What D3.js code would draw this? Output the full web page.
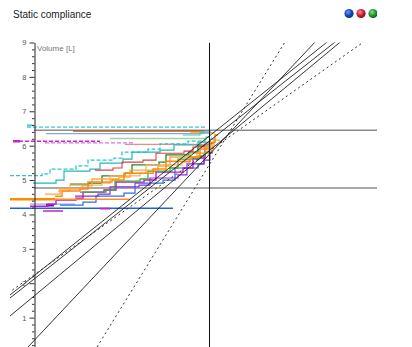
<!DOCTYPE html>
<html><head><meta charset="utf-8">
<script src="https://cdn.jsdelivr.net/npm/d3@7"></script>
<style>
html,body{margin:0;padding:0;background:#fff;overflow:hidden}
svg{display:block}
</style></head><body>
<svg id="chart" width="412" height="347"></svg>
<script>
// ---- data: pressure [cmH2O] / volume [L] ----
const volumeTicks = [1, 2, 3, 4, 5, 6, 7, 8, 9];
const refVolumes = [6.45, 4.77];          // upper / lower volume markers
const refPressure = 20.95;                // pressure marker
const refPressureSpan = [3.4, 37.7];

// compliance fits  V = intercept + slope * P
const fitSlopes = [0.3089, 0.2412, 0.2320, 0.2290];
const fitIntercepts = [-0.720, 0.806, 1.425, 1.341];
// +/- spread lines
const sdSlopes = [0.4719, 0.2054];
const sdIntercepts = [-4.432, 1.548];

// breath traces [P, V]
const expCyan = [[2.7, 6.54], [20.5, 6.54]];
const expCyanHead = [[2.7, 6.59], [3.3, 6.59]];
const expBrown = [[7.3, 6.43], [20.5, 6.43]];
const expLightBlue = [[4.6, 6.35], [19.3, 6.35], [20.3, 6.40], [21.0, 6.45]];
const expLightGreen = [[11.0, 6.21], [20.7, 6.21]];
const expMagenta = [[1.3, 6.13], [10.0, 6.13]];
const expMagentaHead = [[1.3, 6.13], [2.0, 6.13]];
const expOrchid = [[4.5, 6.08], [13.5, 6.08]];
const expSalmon = [[12.5, 6.04], [21.0, 6.04]];
const topOrange = [[19.0, 6.37], [21.5, 6.37]];
const topCyan = [[18.3, 6.31], [20.0, 6.37], [21.0, 6.42]];
const inspCyanA = [[1.0, 5.13], [4.2, 5.18], [5.0, 5.32], [7.6, 5.41], [8.8, 5.58], [11.4, 5.64], [12.2, 5.81], [14.8, 5.90], [16.0, 6.05], [18.8, 6.13], [20.5, 6.25], [21.2, 6.25]];
const inspCyanB = [[3.3, 4.91], [5.6, 5.00], [6.4, 5.26], [9.0, 5.32], [10.0, 5.49], [12.3, 5.61], [13.2, 5.81], [16.0, 5.87], [17.4, 6.02], [19.8, 6.10], [21.0, 6.19], [21.4, 6.19]];
const inspOrangeA = [[5.5, 4.53], [6.2, 4.68], [8.0, 4.74], [8.8, 4.94], [11.2, 5.00], [12.4, 5.20], [15.3, 5.32], [16.6, 5.55], [19.0, 5.67], [20.0, 5.90], [21.0, 6.10], [21.5, 6.31], [21.8, 6.31]];
const inspOrangeB = [[4.5, 4.59], [6.0, 4.74], [8.2, 4.83], [9.2, 5.03], [11.9, 5.09], [13.0, 5.29], [15.8, 5.41], [17.0, 5.67], [19.7, 5.78], [20.6, 5.99], [21.4, 6.16], [22.0, 6.16]];
const inspOrangeC = [[5.8, 4.68], [7.0, 4.85], [10.2, 4.91], [11.0, 5.12], [14.0, 5.20], [14.6, 5.44], [18.2, 5.52], [19.0, 5.78], [20.8, 5.84], [21.3, 6.02]];
const baseOrangeHeavy = [[1.0, 4.44], [5.5, 4.44]];
const baseOrange = [[5.5, 4.44], [13.0, 4.44]];
const inspGreenA = [[7.0, 4.88], [8.9, 4.91], [10.2, 5.12], [12.5, 5.20], [13.2, 5.44], [15.9, 5.52], [16.6, 5.73], [18.9, 5.81], [19.8, 5.99], [21.0, 6.08], [21.4, 6.08]];
const inspGreenB = [[8.0, 4.65], [10.6, 4.71], [11.5, 4.97], [14.0, 5.03], [14.8, 5.26], [17.0, 5.35], [17.8, 5.61], [19.9, 5.70], [20.5, 5.93], [21.3, 5.93]];
const inspMagenta = [[3.0, 4.24], [4.8, 4.30], [5.6, 4.42], [7.6, 4.47], [8.3, 4.65], [10.4, 4.71], [11.6, 4.94], [14.4, 5.00], [15.6, 5.23], [18.3, 5.35], [19.3, 5.64], [20.5, 5.81], [21.2, 5.87]];
const inspViolet = [[7.5, 4.53], [9.8, 4.59], [11.0, 4.80], [13.9, 4.85], [15.0, 5.06], [17.8, 5.15], [18.7, 5.47], [20.4, 5.58], [21.0, 5.76]];
const inspRed = [[9.5, 5.29], [11.3, 5.35], [12.2, 5.52], [14.3, 5.58], [15.6, 5.78], [18.4, 5.84], [19.3, 5.96], [20.5, 6.05], [21.2, 6.10]];
const inspBlue = [[6.0, 4.27], [8.3, 4.36], [9.6, 4.53], [12.4, 4.62], [13.5, 4.91], [16.3, 5.00], [17.5, 5.35], [19.8, 5.47], [20.4, 5.78], [21.2, 5.87]];
const baseBlue = [[1.0, 4.18], [17.3, 4.18]];
const baseLightBlue = [[3.0, 4.30], [7.5, 4.30]];
const baseMagentaA = [[10.0, 4.17], [11.0, 4.17]];
const baseMagentaB = [[4.3, 4.10], [6.3, 4.10]];
const baseViolet = [[4.6, 4.27], [5.4, 4.27]];

const traces = [expCyan, expCyanHead, expBrown, expLightBlue, expLightGreen, expMagenta, expMagentaHead, expOrchid, expSalmon,
  topOrange, topCyan, inspCyanA, inspCyanB, baseBlue, baseLightBlue, baseMagentaB, baseMagentaA, baseViolet,
  inspBlue, inspMagenta, inspViolet, inspGreenB, inspGreenA, inspRed, inspOrangeC, inspOrangeB, inspOrangeA,
  baseOrange, baseOrangeHeavy];
const traceColors = ["#3cc6c6", "#3cc6c6", "#b0601c", "#86a9e6", "#9ed49e", "#cc22cc", "#cc22cc", "#e070e0", "#f08a8a",
  "#ff9a2a", "#35c8d8", "#30c4c4", "#22b8b8", "#1e62d8", "#7fb0f5", "#c020c8", "#cc22cc", "#6a1aa8",
  "#2a70e0", "#cc18cc", "#8a2be2", "#3aaa3a", "#24882a", "#e04040", "#ffb050", "#ffa640", "#ff8a10",
  "#ff9020", "#ff8c00"];
const traceDash = [true, false, false, false, false, true, false, true, false,
  false, false, true, false, false, false, false, false, false,
  false, false, false, false, false, false, false, false, false,
  false, false];
const traceWidths = [1.2, 1.6, 1.5, 1.4, 1.4, 1.4, 2.6, 1.2, 1.2,
  1.3, 1.2, 1.3, 1.2, 1.6, 1.4, 1.6, 1.8, 2.6,
  1.2, 1.4, 1.2, 1.3, 1.3, 1.1, 1.2, 1.4, 1.5,
  1.4, 2.6];

// ---- layout ----
const svg = d3.select("#chart");
const x = d3.scaleLinear().domain([0, 40]).range([0, 400]);
const y = d3.scaleLinear().domain([0, 9]).range([352, 42.5]);

svg.append("defs").append("clipPath").attr("id", "plot")
  .append("rect").attr("x", x(1)).attr("y", y(9)).attr("width", x(37.7) - x(1)).attr("height", y(0) - y(9));

// title and status lamps
svg.append("text").attr("x", 13).attr("y", 17.5)
  .style("font", "10px 'Liberation Sans', Arial, sans-serif").attr("fill", "#222")
  .text("Static compliance");

const lampColors = [["#6a9cff", "#1a4cc4", "#0c2c80"], ["#ff8a95", "#d02838", "#7a0c18"], ["#8ae08a", "#20a030", "#0c5a14"]];
const defs = svg.select("defs");
lampColors.forEach((c, i) => {
  const g = defs.append("radialGradient").attr("id", "lamp" + i).attr("cx", "40%").attr("cy", "35%").attr("r", "65%");
  g.append("stop").attr("offset", "0%").attr("stop-color", c[0]);
  g.append("stop").attr("offset", "55%").attr("stop-color", c[1]);
  g.append("stop").attr("offset", "100%").attr("stop-color", c[2]);
});
defs.append("clipPath").attr("id", "lampClip").append("rect").attr("x", 330).attr("y", 0).attr("width", 47).attr("height", 30);
svg.append("g").attr("clip-path", "url(#lampClip)")
  .selectAll("circle").data(lampColors).join("circle")
  .attr("cx", (d, i) => 349 + i * 12).attr("cy", 13.5).attr("r", 4.6)
  .attr("fill", (d, i) => `url(#lamp${i})`);

const plot = svg.append("g").attr("clip-path", "url(#plot)");

// volume marker lines
plot.selectAll("line.ref").data(refVolumes).join("line").attr("class", "ref")
  .attr("x1", x(refPressureSpan[0])).attr("x2", x(refPressureSpan[1]))
  .attr("y1", d => y(d)).attr("y2", d => y(d))
  .attr("stroke", "#8c8c8c").attr("stroke-width", 1.5);

// breath traces
const traceLine = d3.line().x(d => x(d[0])).y(d => y(d[1])).curve(d3.curveStepAfter);
plot.selectAll("path.trace").data(traces).join("path").attr("class", "trace")
  .attr("d", traceLine).attr("fill", "none")
  .attr("stroke", (d, i) => traceColors[i])
  .attr("stroke-width", (d, i) => traceWidths[i])
  .attr("stroke-dasharray", (d, i) => traceDash[i] ? "4,2" : null);

// compliance lines
const pRange = [0, 40];
const fitLine = (a, b) => pRange.map(p => [p, a + b * p]);
const straight = d3.line().x(d => x(d[0])).y(d => y(d[1]));
plot.selectAll("path.fit").data(fitSlopes.map((b, i) => fitLine(fitIntercepts[i], b))).join("path")
  .attr("class", "fit").attr("d", straight).attr("fill", "none")
  .attr("stroke", "#202020").attr("stroke-width", 0.9);
plot.selectAll("path.sd").data(sdSlopes.map((b, i) => fitLine(sdIntercepts[i], b))).join("path")
  .attr("class", "sd").attr("d", straight).attr("fill", "none")
  .attr("stroke", "#303030").attr("stroke-width", 1).attr("stroke-dasharray", "2,3");

// pressure marker
plot.append("line").attr("x1", x(refPressure)).attr("x2", x(refPressure))
  .attr("y1", y(9)).attr("y2", y(0)).attr("stroke", "#111").attr("stroke-width", 1);

// volume axis
const axisG = svg.append("g").attr("transform", "translate(34.5,0)");
axisG.call(d3.axisLeft(y).tickValues(volumeTicks).tickSize(5).tickSizeOuter(0).tickPadding(3).tickFormat(d3.format("d")));
const minorTicks = d3.range(1, 45).map(i => i / 5).filter(v => Math.abs(v - Math.round(v)) > 1e-6);
axisG.append("g").call(d3.axisLeft(y).tickValues(minorTicks).tickSize(2.5).tickFormat(""))
  .select(".domain").remove();
axisG.selectAll(".domain").attr("stroke", "#222");
axisG.selectAll(".tick line").attr("stroke", "#333");
axisG.selectAll(".tick text").style("font", "7.5px 'Liberation Sans', Arial, sans-serif").attr("fill", "#555");

svg.append("text").attr("x", 37).attr("y", 51)
  .style("font", "8px 'Liberation Sans', Arial, sans-serif").attr("fill", "#777")
  .text("Volume [L]");
</script></body></html>
